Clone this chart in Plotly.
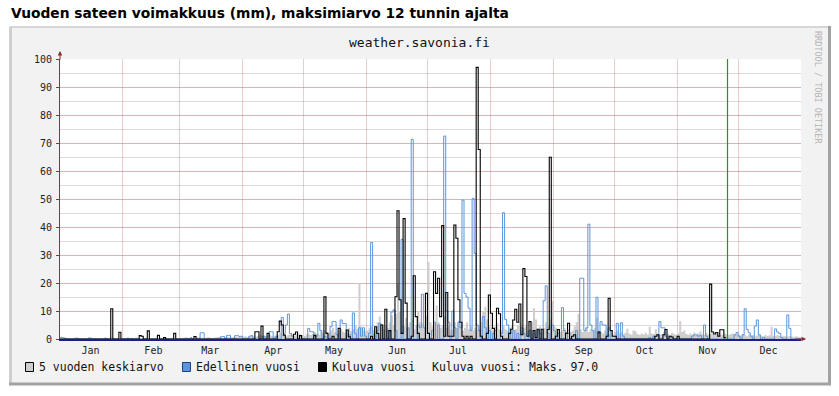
import plotly.graph_objects as go

# ---------------- data ----------------
MONTHS = ["Jan", "Feb", "Mar", "Apr", "May", "Jun", "Jul", "Aug", "Sep", "Oct", "Nov", "Dec"]
MONTH_DAYS = [31, 28, 31, 30, 31, 30, 31, 31, 30, 31, 30, 31]

# 5-year average, daily values per month (mm)
AVG_JAN = [0.3,0.2,0.4,0.3,0.2,0.1,0.3,0.5,0.3,0.2,0.2,0.4,0.3,0.3,0.2,0.5,0.4,0.3,0.2,0.2,0.3,0.4,0.3,0.2,0.3,0.6,0.4,0.3,0.2,0.3,0.2]
AVG_FEB = [0.3,0.2,0.4,0.3,0.3,0.2,0.5,0.4,0.3,0.2,0.3,0.4,0.3,0.2,0.2,0.3,0.4,0.3,0.5,0.3,0.2,0.3,0.4,0.3,0.2,0.3,0.3,0.2]
AVG_MAR = [0.3,0.4,0.5,0.3,0.4,0.6,0.4,0.3,0.5,0.6,0.5,0.4,0.3,0.5,0.6,0.4,0.3,0.5,0.6,0.7,0.5,0.4,0.6,0.8,0.6,0.5,0.7,0.8,0.6,0.7,0.9]
AVG_APR = [0.8,1.0,0.7,0.9,1.2,1.0,0.8,1.1,1.4,1.2,0.9,1.0,1.3,1.5,1.1,0.9,1.2,1.6,2.2,1.5,1.3,1.0,1.4,1.8,1.5,1.2,1.6,2.0,1.7,1.4]
AVG_MAY = [1.2,1.6,2.0,1.4,1.8,2.5,2.0,1.6,2.8,2.2,3.2,2.5,2.0,3.0,4.0,2.4,2.0,3.0,3.6,2.6,2.2,3.2,4.0,2.8,3.4,5.0,3.6,20.0,4.5,3.2,2.8]
AVG_JUN = [3.0,4.0,4.5,3.0,4.0,6.0,8.0,4.5,3.5,5.0,4.0,6.0,8.5,5.0,9.0,20.0,10.0,5.0,4.5,7.5,4.0,6.0,7.0,3.5,5.0,10.0,6.0,5.5,4.0,8.0]
AVG_JUL = [27.5,6.0,4.5,5.5,12.0,6.0,4.0,5.0,8.0,4.0,4.5,3.0,3.5,6.0,4.0,6.5,5.0,3.0,4.0,6.0,3.5,4.5,3.0,4.0,3.0,4.5,6.0,10.0,11.5,7.0,4.5]
AVG_AUG = [4.0,3.0,4.5,5.5,3.5,3.0,5.0,3.5,3.0,4.0,4.5,3.0,3.5,5.0,6.0,3.0,4.0,4.5,3.0,3.5,6.0,11.0,7.0,3.5,4.5,3.0,4.0,6.0,4.5,7.0,13.6]
AVG_SEP = [5.0,4.0,3.5,2.5,3.0,4.0,2.5,3.5,2.5,3.0,4.5,6.0,8.9,3.5,2.5,3.0,4.0,2.5,3.5,3.0,4.0,7.6,3.0,2.5,2.0,3.0,2.0,1.8,2.5,1.5]
AVG_OCT = [2.5,3.0,2.0,2.5,1.8,2.2,3.7,2.0,1.5,3.0,2.8,1.8,1.5,2.0,1.6,2.2,1.5,4.4,2.0,1.8,3.5,2.0,1.5,1.8,2.5,1.6,2.0,1.5,2.2,1.8,1.5]
AVG_NOV = [2.0,6.4,2.5,3.0,1.8,1.5,2.0,1.6,2.4,1.5,2.0,2.8,1.8,1.5,2.2,1.6,1.8,2.0,1.5,1.8,2.5,1.6,1.5,2.0,1.6,1.4,1.8,2.0,1.5,1.6]
AVG_DEC = [1.5,1.2,1.8,1.4,1.0,1.6,1.2,1.4,1.0,1.3,1.6,1.2,1.0,1.4,1.1,1.3,4.4,1.2,1.0,1.4,1.1,0.9,1.2,1.0,0.8,1.1,0.9,0.7,1.0,0.8,0.6]

# previous year (day of year index, value); other days 0
PREV_DAYS = [0,1,2,8,14,22,33,35,62,64,69,70,79,80,82,83,86,87,88,89,93,94,100,103,104,106,109,110,111,112,113,114,
             122,123,124,126,127,128,130,133,134,135,136,138,139,140,142,144,145,147,148,149,150,
             152,153,154,156,157,158,161,163,164,165,168,171,173,176,177,178,179,
             183,184,186,189,190,191,193,194,196,197,198,199,200,201,202,203,204,205,206,208,209,211,
             213,214,217,218,219,220,221,223,225,227,228,231,233,235,236,238,239,240,242,
             243,245,247,248,250,254,256,257,258,259,260,261,262,264,265,266,267,268,270,
             274,276,277,290,292,295,296,297,298,
             311,312,313,314,315,317,318,332,333,
             334,336,337,338,339,340,342,343,344,346,352,353,354,355,358,359]
PREV_VALS = [0.6,0.4,0.3,0.3,0.4,0.3,0.3,0.2,0.3,0.4,2.2,2.2,0.8,0.9,1.3,1.3,1.2,1.2,0.9,1.0,1.0,1.2,1.0,2.6,2.6,1.0,7.7,2.0,5.0,8.9,2.0,1.0,
             3.8,2.6,2.6,1.0,5.6,3.0,1.0,4.4,6.2,6.2,1.5,6.8,5.5,5.5,1.5,9.3,2.0,4.0,1.0,4.0,1.0,
             2.0,34.5,1.5,3.0,5.6,5.0,3.0,9.6,10.4,3.0,35.6,4.0,71.3,5.0,4.0,16.0,4.0,
             3.0,6.0,5.0,72.5,10.0,6.0,10.0,4.0,6.0,4.0,49.6,16.3,15.0,11.0,3.0,50.2,30.6,5.0,3.0,8.0,4.0,3.0,
             2.0,3.0,2.0,45.1,7.0,5.0,2.0,3.0,2.0,4.0,2.0,3.0,2.0,3.0,2.0,13.7,19.0,2.0,5.0,
             3.0,2.0,11.2,3.0,2.0,3.0,21.7,21.7,3.0,4.0,41.0,5.0,3.0,14.9,2.0,6.2,5.0,5.0,4.0,
             5.6,5.8,1.0,0.5,1.0,6.2,4.0,4.0,1.0,
             1.0,1.5,1.5,1.0,1.2,5.0,1.0,1.5,2.3,
             1.0,1.5,10.8,3.4,2.2,1.0,4.6,6.8,1.5,0.5,3.6,2.5,2.0,0.5,8.6,3.8]

# current year (day of year index, value); other days 0, data ends at NOW_DAY
CUR_DAYS = [25,29,39,40,43,48,51,56,66,
            96,97,99,102,107,108,109,110,115,116,118,
            125,130,131,134,137,141,142,
            153,155,156,158,160,162,165,166,167,168,169,170,173,174,175,176,180,181,
            184,185,186,187,188,189,190,191,192,193,194,195,196,197,198,200,202,205,206,207,210,211,
            212,213,215,216,217,221,222,223,224,225,226,227,228,229,230,231,233,234,235,237,240,241,
            244,245,249,250,252,253,265,269,270,271,272,273,
            293,294,297,298,300,301,304,320,321,322,323,324,325,326,327,328]
CUR_VALS = [10.8,2.4,1.2,1.0,2.9,1.3,0.5,2.0,0.9,
            2.6,2.6,4.6,2.0,2.6,6.4,5.0,1.4,1.7,2.5,1.2,
            1.3,15.1,2.0,1.0,3.8,3.2,0.8,
            1.0,4.4,2.0,5.0,10.6,3.0,15.1,45.8,14.0,2.0,43.0,12.8,1.0,22.6,8.0,2.0,16.3,2.0,
            24.0,16.3,21.7,8.0,40.5,1.0,16.6,1.0,1.0,1.0,40.7,36.0,14.0,6.0,1.0,1.0,1.0,97.0,67.7,1.0,2.0,15.7,
            9.2,3.8,11.0,9.0,1.0,2.0,3.5,6.8,10.6,6.0,12.5,1.5,25.2,22.3,1.0,6.2,3.0,0.5,3.5,3.5,3.4,
            64.9,1.0,3.4,2.0,5.6,1.0,1.5,2.5,1.0,14.5,3.0,1.0,
            1.0,1.0,1.5,1.5,3.4,1.0,0.7,1.0,19.6,2.5,1.8,2.3,1.0,3.3,3.3,0.5]
NOW_DAY = 328.8

TITLE = "Vuoden sateen voimakkuus (mm), maksimiarvo 12 tunnin ajalta"
SUBTITLE = "weather.savonia.fi"
WATERMARK = "RRDTOOL / TOBI OETIKER"
LEG_AVG = "5 vuoden keskiarvo"
LEG_PREV = "Edellinen vuosi"
LEG_CUR = "Kuluva vuosi"

# ---------------- build series ----------------
avg = AVG_JAN + AVG_FEB + AVG_MAR + AVG_APR + AVG_MAY + AVG_JUN + AVG_JUL + AVG_AUG + AVG_SEP + AVG_OCT + AVG_NOV + AVG_DEC
ndays = sum(MONTH_DAYS)
prev = [0.0] * ndays
for d, v in zip(PREV_DAYS, PREV_VALS):
    prev[d] = v
ncur = int(NOW_DAY)
cur = [0.0] * ncur
for d, v in zip(CUR_DAYS, CUR_VALS):
    if d < ncur:
        cur[d] = v

month_starts = []
s = 0
for m in MONTH_DAYS:
    month_starts.append(s)
    s += m
month_mid = [st + 15 for st in month_starts]

# ---------------- geometry / styles ----------------
W, H = 839, 396
L, R, T, B = 60, 38, 59, 57
PW, PH = W - L - R, H - T - B


def px(x):
    return (x - L) / PW


def py(y):
    return (H - B - y) / PH


MONO = "DejaVu Sans Mono"
C_AVG = "#cecece"
C_PREV = "#5b95dc"
C_CUR = "#000000"
GRID_MAJOR = "rgba(205,120,120,0.38)"
GRID_MINOR = "rgba(160,150,150,0.35)"

fig = go.Figure()
fig.add_trace(go.Scatter(x=list(range(ndays + 1)), y=avg + [avg[-1]], mode="lines",
                         line=dict(shape="hv", width=0, color=C_AVG), fill="tozeroy",
                         fillcolor=C_AVG, hoverinfo="skip", showlegend=False))
fig.add_trace(go.Scatter(x=list(range(ndays + 1)), y=prev + [prev[-1]], mode="lines",
                         line=dict(shape="hv", width=1.0, color=C_PREV), hoverinfo="skip", showlegend=False))
fig.add_trace(go.Scatter(x=list(range(ncur + 1)), y=cur + [cur[-1]], mode="lines",
                         line=dict(shape="hv", width=1.1, color=C_CUR), hoverinfo="skip", showlegend=False))
# dummy trace to activate the label axis
fig.add_trace(go.Scatter(x=[0], y=[0], xaxis="x2", mode="markers", marker=dict(opacity=0),
                         hoverinfo="skip", showlegend=False))

shapes = [
    # chart canvas
    dict(type="rect", xref="paper", yref="paper", x0=px(9), x1=px(831), y0=py(385), y1=py(26),
         fillcolor="#f2f2f2", line=dict(width=0), layer="below"),
    dict(type="line", xref="paper", yref="paper", x0=px(10), x1=px(830), y0=py(27), y1=py(27),
         line=dict(color="#d6d6d6", width=2), layer="below"),
    dict(type="line", xref="paper", yref="paper", x0=px(10.5), x1=px(10.5), y0=py(27), y1=py(384),
         line=dict(color="#cfcfcf", width=3), layer="below"),
    dict(type="line", xref="paper", yref="paper", x0=px(829.5), x1=px(829.5), y0=py(26), y1=py(385),
         line=dict(color="#a2a2a2", width=3), layer="below"),
    dict(type="line", xref="paper", yref="paper", x0=px(9), x1=px(831), y0=py(384), y1=py(384),
         line=dict(color="#a2a2a2", width=3), layer="below"),
    # plot area
    dict(type="rect", xref="paper", yref="paper", x0=0, x1=1, y0=0, y1=1,
         fillcolor="#ffffff", line=dict(width=0), layer="below"),
    # "now" marker
    dict(type="line", xref="x", yref="paper", x0=NOW_DAY, x1=NOW_DAY, y0=0, y1=1,
         line=dict(color="#1a9a1a", width=1.2), layer="above"),
    # legend boxes
    dict(type="rect", xref="paper", yref="paper", x0=px(25.5), x1=px(33.5), y0=py(371.5), y1=py(362.5),
         fillcolor=C_AVG, line=dict(color="#000", width=1)),
    dict(type="rect", xref="paper", yref="paper", x0=px(182.5), x1=px(190.5), y0=py(371.5), y1=py(362.5),
         fillcolor=C_PREV, line=dict(color="#1f3f80", width=1)),
    dict(type="rect", xref="paper", yref="paper", x0=px(318.5), x1=px(326.5), y0=py(371.5), y1=py(362.5),
         fillcolor=C_CUR, line=dict(color="#000", width=1)),
]

annotations = [
    dict(text="<b>" + TITLE + "</b>", xref="paper", yref="paper", x=px(9), y=py(13),
         xanchor="left", yanchor="middle", showarrow=False,
         font=dict(family="DejaVu Sans", size=13.8, color="#000")),
    dict(text=SUBTITLE, xref="paper", yref="paper", x=px(419.5), y=py(43),
         xanchor="center", yanchor="middle", showarrow=False,
         font=dict(family=MONO, size=13, color="#111")),
    dict(text=WATERMARK, xref="paper", yref="paper", x=px(818), y=py(87),
         xanchor="center", yanchor="middle", showarrow=False, textangle=90,
         font=dict(family=MONO, size=8.5, color="#b4b4b4")),
    # axis arrows
    dict(text="", xref="paper", yref="paper", x=px(806), y=0, ax=-12, ay=0,
         showarrow=True, arrowhead=2, arrowsize=0.9, arrowwidth=1, arrowcolor="#8b2a2a"),
    dict(text="", xref="paper", yref="paper", x=0, y=py(51), ax=0, ay=10,
         showarrow=True, arrowhead=2, arrowsize=0.9, arrowwidth=1, arrowcolor="#8b2a2a"),
    # legend texts
    dict(text=LEG_AVG, xref="paper", yref="paper", x=px(37), y=py(367), xanchor="left", yanchor="middle",
         showarrow=False, font=dict(family=MONO, size=11.5, color="#111")),
    dict(text=LEG_PREV, xref="paper", yref="paper", x=px(194), y=py(367), xanchor="left", yanchor="middle",
         showarrow=False, font=dict(family=MONO, size=11.5, color="#111")),
    dict(text=LEG_CUR, xref="paper", yref="paper", x=px(330), y=py(367), xanchor="left", yanchor="middle",
         showarrow=False, font=dict(family=MONO, size=11.5, color="#111")),
    dict(text=f"{LEG_CUR}: Maks. {max(cur):.1f}", xref="paper", yref="paper", x=px(430), y=py(367),
         xanchor="left", yanchor="middle", showarrow=False, font=dict(family=MONO, size=11.5, color="#111")),
]

fig.update_layout(
    width=W, height=H, autosize=False,
    margin=dict(l=L, r=R, t=T, b=B, pad=0),
    paper_bgcolor="#ffffff", plot_bgcolor="#ffffff",
    showlegend=False,
    shapes=shapes, annotations=annotations,
    xaxis=dict(range=[0, ndays], tickmode="array", tickvals=month_starts, ticktext=[""] * 12,
               showgrid=True, gridcolor=GRID_MAJOR, gridwidth=1,
               showline=True, linecolor="#1c1c8a", linewidth=1.6, ticks="", zeroline=False,
               fixedrange=True),
    xaxis2=dict(range=[0, ndays], overlaying="x", side="bottom", anchor="y",
                tickmode="array", tickvals=month_mid, ticktext=MONTHS, showgrid=False,
                showline=False, zeroline=False, ticks="", ticklabelstandoff=4,
                tickfont=dict(family=MONO, size=10, color="#222")),
    yaxis=dict(range=[0, 100], tickmode="array", tickvals=list(range(0, 101, 10)),
               showgrid=True, gridcolor=GRID_MAJOR, gridwidth=1,
               minor=dict(dtick=5, showgrid=True, gridcolor=GRID_MINOR),
               showline=True, linecolor="#5a4a4a", linewidth=1, zeroline=False,
               ticks="outside", ticklen=3, tickcolor="#5a4a4a", ticklabelstandoff=2,
               tickfont=dict(family=MONO, size=10, color="#222")),
)

fig.write_html("out.html", config={"displayModeBar": False, "staticPlot": True},
               post_script="document.body.style.margin='0';document.body.style.padding='0';")
